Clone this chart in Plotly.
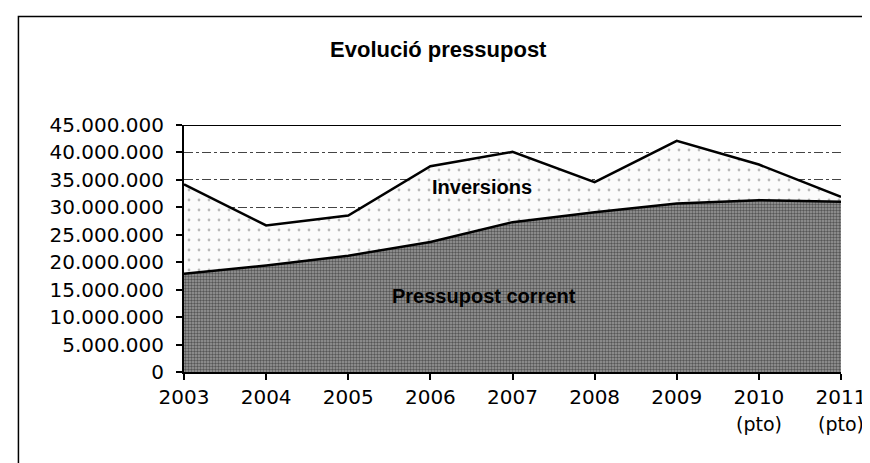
import plotly.graph_objects as go

years = [2003, 2004, 2005, 2006, 2007, 2008, 2009, 2010, 2011]
year_labels = ["2003", "2004", "2005", "2006", "2007", "2008", "2009", "2010", "2011"]
year_sublabels = ["", "", "", "", "", "", "", "(pto)", "(pto)"]
pressupost_corrent = [17900000, 19400000, 21200000, 23700000, 27300000,
                      29100000, 30700000, 31300000, 31000000]
inversions = [16300000, 7300000, 7300000, 13800000, 12800000,
              5500000, 11400000, 6500000, 900000]
y_ticks = [0, 5000000, 10000000, 15000000, 20000000, 25000000,
           30000000, 35000000, 40000000, 45000000]

FONT = "Liberation Sans, Arial, sans-serif"
TICKFONT = "DejaVu Sans, sans-serif"

fig = go.Figure()
fig.add_trace(go.Scatter(
    x=years, y=pressupost_corrent, name="Pressupost corrent",
    mode="lines", stackgroup="one",
    line=dict(color="black", width=2.5),
    fillcolor="#7a7a7a",
    fillpattern=dict(shape=".", fgcolor="#111111", bgcolor="#9a9a9a",
                     size=3, solidity=0.5),
))
fig.add_trace(go.Scatter(
    x=years, y=inversions, name="Inversions",
    mode="lines", stackgroup="one",
    line=dict(color="black", width=2.5),
    fillcolor="#f7f7f7",
    fillpattern=dict(shape=".", fgcolor="#777777", bgcolor="#fbfbfb",
                     size=10, solidity=0.06),
))

fig.add_annotation(x=2006.63, y=33700000, xref="x", yref="y",
                   text="<b>Inversions</b>", showarrow=False,
                   font=dict(family=FONT, size=20, color="black"))
fig.add_annotation(x=2006.65, y=13900000, xref="x", yref="y",
                   text="<b>Pressupost corrent</b>", showarrow=False,
                   font=dict(family=FONT, size=20, color="black"))

for yr, sub in zip(years, year_sublabels):
    if sub:
        fig.add_annotation(x=yr, y=-0.212, xref="x", yref="paper",
                           text=sub, showarrow=False, yanchor="middle",
                           font=dict(family=TICKFONT, size=19, color="black"))

# outer chart frame
fig.add_shape(type="rect", xref="paper", yref="paper",
              x0=-0.252, x1=1.07, y0=-0.45, y1=1.439,
              line=dict(color="black", width=1.5), layer="below")

fig.update_layout(
    width=870, height=463,
    margin=dict(l=176, r=37, t=117, b=99),
    paper_bgcolor="white", plot_bgcolor="white",
    showlegend=False,
    separators=",.",
    title=dict(text="<b>Evolució pressupost</b>", x=0.387, xref="paper",
               xanchor="center", y=1 - 41 / 463, yanchor="middle",
               font=dict(family=FONT, size=22, color="black")),
    font=dict(family=FONT, size=20, color="black"),
)
fig.update_xaxes(
    range=[2003, 2011], tickvals=years, ticktext=year_labels,
    showgrid=False, showline=True, linecolor="black", linewidth=2,
    ticks="outside", ticklen=6, tickcolor="black", tickwidth=1.5,
    ticklabelstandoff=0,
    tickfont=dict(family=TICKFONT, size=20, color="black"), zeroline=False,
)
fig.update_yaxes(
    range=[0, 45000000], tickvals=y_ticks, tickformat=",.0f",
    showgrid=True, gridcolor="#444444", gridwidth=1, griddash="dashdot",
    showline=True, linecolor="black", linewidth=2,
    ticks="outside", ticklen=6, tickcolor="black", tickwidth=1.5,
    ticklabelstandoff=8,
    tickfont=dict(family=TICKFONT, size=20, color="black"), zeroline=False,
)
fig.add_shape(type="line", xref="paper", yref="y", x0=0, x1=1,
              y0=45000000, y1=45000000, line=dict(color="black", width=2))

fig.write_html("out.html")
